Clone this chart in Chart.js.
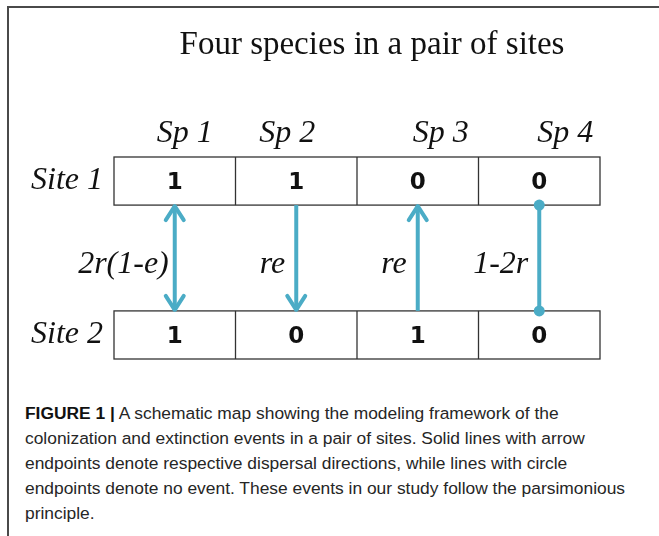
<!DOCTYPE html>
<html lang="en">
<head>
    <meta charset="UTF-8">
    <title>Four species in a pair of sites</title>
    <style>
        body {
            margin: 0;
            background: #fff;
            width: 659px;
            height: 536px;
            overflow: hidden;
            position: relative;
        }
        .frame {
            position: absolute;
            left: 7px;
            top: 6px;
            width: 700px;
            height: 600px;
            border-top: 2px solid #4a4a4a;
            border-left: 2px solid #4a4a4a;
        }
        #chartBox {
            position: absolute;
            left: 0;
            top: 0;
            width: 659px;
            height: 380px;
        }
        .caption {
            position: absolute;
            left: 25px;
            top: 401px;
            font-family: "Liberation Sans", Arial, sans-serif;
            font-size: 17.4px;
            line-height: 25px;
            color: #262626;
            white-space: nowrap;
        }
        .caption b {
            color: #111;
        }
    </style>
</head>
<body>
    <div class="frame"></div>
    <div id="chartBox"><canvas id="diagram" width="659" height="380"></canvas></div>
    <div class="caption">
        <b>FIGURE 1 |</b> A schematic map showing the modeling framework of the<br>
        colonization and extinction events in a pair of sites. Solid lines with arrow<br>
        endpoints denote respective dispersal directions, while lines with circle<br>
        endpoints denote no event. These events in our study follow the parsimonious<br>
        principle.
    </div>

    <script src="https://cdn.jsdelivr.net/npm/chart.js"></script>
    <script>
        // diagram content
        const title = 'Four species in a pair of sites';
        const species = ['Sp 1', 'Sp 2', 'Sp 3', 'Sp 4'];
        const sites = ['Site 1', 'Site 2'];
        const site1 = [1, 1, 0, 0];
        const site2 = [1, 0, 1, 0];
        const eventType = ['both', 'down', 'up', 'none'];
        const eventRate = ['2r(1-e)', 're', 're', '1-2r'];

        // rows on the y scale: site 2 spans 0..1, site 1 spans 3.2..4.2
        const rowSpan = { 'Site 1': [3.2, 4.2], 'Site 2': [0, 1] };
        // header labels sit a little off the column centres in the original
        const headShift = [10, -9, 23, 26];
        const arrowColor = '#4bacc6';
        const serif = '"Liberation Serif", "Times New Roman", serif';

        const datasets = eventType.map((t, i) => ({
            label: species[i],
            data: [{ x: i + 0.5, y: 1 }, { x: i + 0.5, y: 3.2 }],
            showLine: true,
            borderColor: arrowColor,
            backgroundColor: arrowColor,
            borderWidth: 4,
            pointRadius: t === 'none' ? 5.5 : 0,
            pointBorderWidth: 0
        }));

        function chevron(ctx, x, y, dir) {
            // dir: -1 tip pointing up, +1 tip pointing down
            ctx.beginPath();
            ctx.moveTo(x - 9, y - dir * 14);
            ctx.lineTo(x, y);
            ctx.lineTo(x + 9, y - dir * 14);
            ctx.stroke();
        }

        const tablePlugin = {
            id: 'tablePlugin',
            beforeDatasetsDraw(chart) {
                const ctx = chart.ctx;
                const xs = chart.scales.x, ys = chart.scales.y;
                ctx.save();
                // title
                ctx.fillStyle = '#111';
                ctx.font = '33px ' + serif;
                ctx.textAlign = 'center';
                ctx.textBaseline = 'middle';
                ctx.fillText(title, 372, 45);

                sites.forEach((site, r) => {
                    const top = ys.getPixelForValue(rowSpan[site][1]);
                    const bot = ys.getPixelForValue(rowSpan[site][0]);
                    const left = xs.getPixelForValue(0);
                    const right = xs.getPixelForValue(species.length);
                    ctx.strokeStyle = '#333';
                    ctx.lineWidth = 1.3;
                    ctx.strokeRect(left, top, right - left, bot - top);
                    for (let c = 1; c < species.length; c++) {
                        const xp = xs.getPixelForValue(c);
                        ctx.beginPath();
                        ctx.moveTo(xp, top);
                        ctx.lineTo(xp, bot);
                        ctx.stroke();
                    }
                    const mid = (top + bot) / 2;
                    const vals = r === 0 ? site1 : site2;
                    ctx.fillStyle = '#111';
                    ctx.font = 'bold 23px "DejaVu Sans", sans-serif';
                    ctx.textAlign = 'center';
                    ctx.textBaseline = 'middle';
                    vals.forEach((v, c) => {
                        ctx.fillText(String(v), xs.getPixelForValue(c + 0.5), mid + 2);
                    });
                    // site label
                    ctx.font = 'italic 32px ' + serif;
                    ctx.textAlign = 'right';
                    ctx.fillText(site, left - 11, mid);
                });
                // species headers
                const headY = ys.getPixelForValue(4.2) - 23;
                ctx.font = 'italic 32px ' + serif;
                ctx.textAlign = 'center';
                ctx.textBaseline = 'middle';
                species.forEach((s, c) => {
                    ctx.fillText(s, xs.getPixelForValue(c + 0.5) + headShift[c], headY);
                });
                // rates
                ctx.font = 'italic 32px ' + serif;
                ctx.textAlign = 'right';
                const rateY = ys.getPixelForValue(1.97);
                eventRate.forEach((txt, c) => {
                    const gap = c === 0 ? 6 : 11;
                    ctx.fillText(txt, xs.getPixelForValue(c + 0.5) - gap, rateY);
                });
                ctx.restore();
            },
            afterDatasetsDraw(chart) {
                const ctx = chart.ctx;
                const xs = chart.scales.x, ys = chart.scales.y;
                ctx.save();
                ctx.strokeStyle = arrowColor;
                ctx.lineWidth = 4;
                ctx.lineJoin = 'round';
                ctx.lineCap = 'round';
                eventType.forEach((t, c) => {
                    const xp = xs.getPixelForValue(c + 0.5);
                    const upTip = ys.getPixelForValue(3.2) + 1;
                    const downTip = ys.getPixelForValue(1) - 1;
                    if (t === 'both' || t === 'up') chevron(ctx, xp, upTip, -1);
                    if (t === 'both' || t === 'down') chevron(ctx, xp, downTip, 1);
                });
                ctx.restore();
            }
        };

        new Chart(document.getElementById('diagram'), {
            type: 'scatter',
            data: { datasets: datasets },
            options: {
                responsive: false,
                animation: false,
                events: [],
                layout: { padding: { left: 114, right: 59, top: 157, bottom: 21 } },
                scales: {
                    x: { type: 'linear', min: 0, max: 4, display: false },
                    y: { type: 'linear', min: 0, max: 4.2, display: false }
                },
                plugins: {
                    legend: { display: false },
                    tooltip: { enabled: false },
                    title: { display: false }
                }
            },
            plugins: [tablePlugin]
        });
    </script>
</body>
</html>
